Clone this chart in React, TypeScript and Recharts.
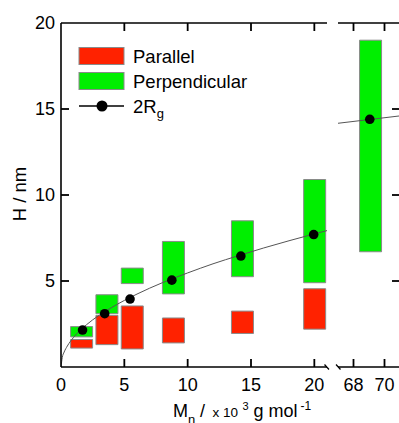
import React from 'react';
import { ComposedChart, Bar, Line, Scatter, XAxis, YAxis } from 'recharts';

// ---- data ----
const lowMnCenters = [1.6, 3.6, 5.6, 8.85, 14.3, 20.0];
const parallelLow = [1.1, 1.3, 1.05, 1.4, 1.95, 2.2];
const parallelHigh = [1.6, 3.0, 3.55, 2.85, 3.25, 4.55];
const perpLow = [1.75, 3.1, 4.85, 4.25, 5.25, 4.9];
const perpHigh = [2.35, 4.2, 5.75, 7.3, 8.5, 10.9];

const highMnCenters = [69.1];
const perpHighMnLow = [6.7];
const perpHighMnHigh = [19.0];

const rgMn = [1.7, 3.45, 5.45, 8.75, 14.2, 19.95, 69.05];
const rgValue = [2.15, 3.1, 3.95, 5.05, 6.45, 7.7, 14.4];

const fitMn = [0, 0.1, 0.25, 0.5, 1, 2, 3, 4, 6, 8, 10, 12, 14, 16, 18, 21, 67, 71];
const fitValue = [0, 0.55, 0.87, 1.22, 1.73, 2.45, 3.0, 3.46, 4.24, 4.9, 5.47, 6.0, 6.47, 6.92, 7.34, 7.93, 14.17, 14.6];

const leftTicks = [0, 5, 10, 15, 20];
const topLeftTicks = [5, 10, 15, 20];
const rightTicks = [68, 70];
const yTicks = [5, 10, 15, 20];
const leftDomain = [0, 21];
const rightDomain = [67, 71];
const yDomain = [0, 20];

// ---- layout ----
const PLOT_TOP = 23;
const X_AXIS_H = 56;
const CHART_H = 423;
const PLOT_BOTTOM = CHART_H - X_AXIS_H;
const LEFT_W = 340;
const LEFT_X0 = 61;
const LEFT_X1 = 327;
const RIGHT_W = 420;
const RIGHT_X0 = 338;
const RIGHT_AXIS_W = 20;
const RIGHT_X1 = RIGHT_W - RIGHT_AXIS_W;
const TICK_LEN = 8;

// ---- derived tables ----
const leftBars = lowMnCenters.map((x, i) => ({
  x,
  par: [parallelLow[i], parallelHigh[i]],
  perp: [perpLow[i], perpHigh[i]],
}));
const rightBars = highMnCenters.map((x, i) => ({ x, perp: [perpHighMnLow[i], perpHighMnHigh[i]] }));
const rgPoints = rgMn.map((x, i) => ({ x, y: rgValue[i] }));
const fitPoints = fitMn.map((x, i) => ({ x, y: fitValue[i] }));
const leftRg = rgPoints.filter((p) => p.x <= leftDomain[1]);
const rightRg = rgPoints.filter((p) => p.x >= rightDomain[0]);
const leftFit = fitPoints.filter((p) => p.x <= leftDomain[1]);
const rightFit = fitPoints.filter((p) => p.x >= rightDomain[0]);

// linear maps matching the chart axes (used only for the frame's inward tick marks)
const mapX = (t: number, d: number[], a: number, b: number) => a + ((t - d[0]) / (d[1] - d[0])) * (b - a);
const mapY = (v: number) =>
  PLOT_BOTTOM - ((v - yDomain[0]) / (yDomain[1] - yDomain[0])) * (PLOT_BOTTOM - PLOT_TOP);
const yInner = yTicks.filter((t) => t < yDomain[1]);
const frameTicks: { x1: number; y1: number; x2: number; y2: number }[] = [
  ...leftTicks
    .filter((t) => t > leftDomain[0])
    .map((t) => {
      const x = mapX(t, leftDomain, LEFT_X0, LEFT_X1);
      return { x1: x, y1: PLOT_BOTTOM, x2: x, y2: PLOT_BOTTOM - TICK_LEN };
    }),
  ...topLeftTicks.map((t) => {
    const x = mapX(t, leftDomain, LEFT_X0, LEFT_X1);
    return { x1: x, y1: PLOT_TOP, x2: x, y2: PLOT_TOP + TICK_LEN };
  }),
  ...yInner.map((t) => ({ x1: LEFT_X0, y1: mapY(t), x2: LEFT_X0 + TICK_LEN, y2: mapY(t) })),
  ...rightTicks.map((t) => {
    const x = mapX(t, rightDomain, RIGHT_X0, RIGHT_X1);
    return { x1: x, y1: PLOT_BOTTOM, x2: x, y2: PLOT_BOTTOM - TICK_LEN };
  }),
  ...rightTicks.map((t) => {
    const x = mapX(t, rightDomain, RIGHT_X0, RIGHT_X1);
    return { x1: x, y1: PLOT_TOP, x2: x, y2: PLOT_TOP + TICK_LEN };
  }),
  ...yInner.map((t) => ({ x1: RIGHT_X1, y1: mapY(t), x2: RIGHT_X1 - TICK_LEN, y2: mapY(t) })),
];

const RED = '#ff2200';
const GREEN = '#00ef00';
const BORDER = '#8a8a8a';
const FONT = '"Liberation Sans", Arial, Helvetica, sans-serif';
const axisLine = { stroke: '#000', strokeWidth: 1.6 };

// tick labels only
const TickLabel = (props: any) => {
  const { x, y, payload, side } = props;
  const v = payload ? payload.value : '';
  if (side === 'bottom')
    return (
      <text x={x} y={y + 24} textAnchor="middle" fontSize={18} fontFamily={FONT} fill="#000">
        {v}
      </text>
    );
  if (side === 'left')
    return (
      <text x={x - 6} y={y + 6.4} textAnchor="end" fontSize={18} fontFamily={FONT} fill="#000">
        {v}
      </text>
    );
  return <g />;
};

const Dot = (props: any) => <circle cx={props.cx} cy={props.cy} r={4.8} fill="#000" />;

const XLabel = () => (
  <text fontFamily={FONT} fill="#000">
    <tspan x={173} y={417} fontSize={18}>M</tspan>
    <tspan x={188} y={424} fontSize={13}>n</tspan>
    <tspan x={200} y={417} fontSize={18}>/</tspan>
    <tspan x={212.5} y={417} fontSize={13.5}>x 10</tspan>
    <tspan x={242.5} y={410} fontSize={11}>3</tspan>
    <tspan x={253.5} y={417} fontSize={18}>g mol</tspan>
    <tspan x={300.5} y={410} fontSize={12}>-1</tspan>
  </text>
);

const YLabel = () => (
  <text
    x={19}
    y={194}
    transform="rotate(-90 19 194)"
    textAnchor="middle"
    dominantBaseline="central"
    fontFamily={FONT}
    fontSize={18.5}
    fill="#000"
  >
    H / nm
  </text>
);

export default function App() {
  return (
    <div
      style={{
        position: 'absolute',
        left: 0,
        top: 0,
        width: 399,
        height: 423,
        overflow: 'hidden',
        background: '#fff',
      }}
    >
      {/* left panel */}
      <div style={{ position: 'absolute', left: 0, top: 0 }}>
        <ComposedChart
          width={LEFT_W}
          height={CHART_H}
          data={leftBars}
          margin={{ top: 0, right: LEFT_W - LEFT_X1, bottom: 0, left: 0 }}
        >
          <XAxis
            xAxisId="main"
            type="number"
            dataKey="x"
            domain={leftDomain}
            ticks={leftTicks}
            interval={0}
            height={X_AXIS_H}
            tickSize={0}
            tickMargin={0}
            axisLine={axisLine}
            tickLine={false}
            tick={<TickLabel side="bottom" />}
            allowDataOverflow
            label={<XLabel />}
          />
          <XAxis
            xAxisId="top"
            orientation="top"
            type="number"
            dataKey="x"
            domain={leftDomain}
            ticks={topLeftTicks}
            interval={0}
            height={PLOT_TOP}
            tickSize={0}
            tickMargin={0}
            axisLine={axisLine}
            tickLine={false}
            tick={<TickLabel side="top" />}
            allowDataOverflow
          />
          <XAxis xAxisId="r" type="number" dataKey="x" domain={leftDomain} height={0} hide allowDataOverflow />
          <XAxis xAxisId="g" type="number" dataKey="x" domain={leftDomain} height={0} hide allowDataOverflow />
          <YAxis
            type="number"
            domain={yDomain}
            ticks={yTicks}
            interval={0}
            width={LEFT_X0}
            tickSize={0}
            tickMargin={0}
            axisLine={axisLine}
            tickLine={false}
            tick={<TickLabel side="left" />}
            allowDataOverflow
            label={<YLabel />}
          />
          <Bar
            xAxisId="r"
            dataKey="par"
            barSize={22}
            fill={RED}
            stroke={BORDER}
            strokeWidth={1}
            isAnimationActive={false}
          />
          <Bar
            xAxisId="g"
            dataKey="perp"
            barSize={22}
            fill={GREEN}
            stroke={BORDER}
            strokeWidth={1}
            isAnimationActive={false}
          />
          <Line
            xAxisId="main"
            data={leftFit}
            dataKey="y"
            type="monotone"
            stroke="#555"
            strokeWidth={1}
            dot={false}
            activeDot={false}
            isAnimationActive={false}
          />
          <Scatter xAxisId="top" data={leftRg} dataKey="y" shape={<Dot />} isAnimationActive={false} />
        </ComposedChart>
      </div>

      {/* right panel */}
      <div style={{ position: 'absolute', left: 0, top: 0 }}>
        <ComposedChart
          width={RIGHT_W}
          height={CHART_H}
          data={rightBars}
          margin={{ top: 0, right: 0, bottom: 0, left: RIGHT_X0 }}
        >
          <XAxis
            xAxisId="main"
            type="number"
            dataKey="x"
            domain={rightDomain}
            ticks={rightTicks}
            interval={0}
            height={X_AXIS_H}
            tickSize={0}
            tickMargin={0}
            axisLine={axisLine}
            tickLine={false}
            tick={<TickLabel side="bottom" />}
            allowDataOverflow
          />
          <XAxis
            xAxisId="top"
            orientation="top"
            type="number"
            dataKey="x"
            domain={rightDomain}
            ticks={rightTicks}
            interval={0}
            height={PLOT_TOP}
            tickSize={0}
            tickMargin={0}
            axisLine={axisLine}
            tickLine={false}
            tick={<TickLabel side="top" />}
            allowDataOverflow
          />
          <XAxis xAxisId="g" type="number" dataKey="x" domain={rightDomain} height={0} hide allowDataOverflow />
          <YAxis
            orientation="right"
            type="number"
            domain={yDomain}
            ticks={yTicks}
            interval={0}
            width={RIGHT_AXIS_W}
            tickSize={0}
            tickMargin={0}
            axisLine={axisLine}
            tickLine={false}
            tick={<TickLabel side="right" />}
            allowDataOverflow
          />
          <Bar
            xAxisId="g"
            dataKey="perp"
            barSize={22}
            fill={GREEN}
            stroke={BORDER}
            strokeWidth={1}
            isAnimationActive={false}
          />
          <Line
            xAxisId="main"
            data={rightFit}
            dataKey="y"
            type="linear"
            stroke="#555"
            strokeWidth={1}
            dot={false}
            activeDot={false}
            isAnimationActive={false}
          />
          <Scatter xAxisId="top" data={rightRg} dataKey="y" shape={<Dot />} isAnimationActive={false} />
        </ComposedChart>
      </div>

      {/* frame tick marks, axis break marks and legend */}
      <svg
        width={399}
        height={423}
        style={{ position: 'absolute', left: 0, top: 0, pointerEvents: 'none' }}
      >
        {frameTicks.map((t, i) => (
          <line key={i} x1={t.x1} y1={t.y1} x2={t.x2} y2={t.y2} stroke="#000" strokeWidth={1.8} />
        ))}
        <line x1={324.5} y1={364.5} x2={329} y2={369.5} stroke="#000" strokeWidth={1.2} />
        <line x1={336} y1={364.5} x2={340.5} y2={369.5} stroke="#000" strokeWidth={1.2} />
        <g fontFamily={FONT} fontSize={18.5} fill="#000">
          <rect x={79} y={47.5} width={45} height={17} fill={RED} stroke={BORDER} strokeWidth={1} />
          <text x={133} y={56} dominantBaseline="central">Parallel</text>
          <rect x={79} y={72.5} width={45} height={17} fill={GREEN} stroke={BORDER} strokeWidth={1} />
          <text x={133} y={81} dominantBaseline="central">Perpendicular</text>
          <line x1={79} y1={106} x2={124} y2={106} stroke="#000" strokeWidth={1.5} />
          <circle cx={102} cy={106} r={5.5} fill="#000" />
          <text x={133} y={112.5}>
            2R<tspan fontSize={13} dy={5}>g</tspan>
          </text>
        </g>
      </svg>
    </div>
  );
}
